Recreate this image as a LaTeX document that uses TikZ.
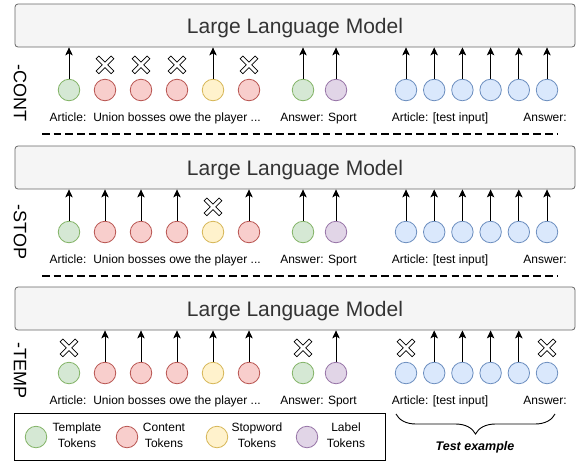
\documentclass[tikz,border=0pt]{standalone}
\usepackage{fontspec}
\setmainfont{Liberation Sans}
\usetikzlibrary{arrows.meta,decorations.pathreplacing}

\definecolor{llmfill}{HTML}{F5F5F5}
\definecolor{llmdraw}{HTML}{666666}
\definecolor{llmtext}{HTML}{333333}
\definecolor{tmplfill}{HTML}{D5E8D4}
\definecolor{tmpldraw}{HTML}{82B366}
\definecolor{contfill}{HTML}{F8CECC}
\definecolor{contdraw}{HTML}{B85450}
\definecolor{stopfill}{HTML}{FFF2CC}
\definecolor{stopdraw}{HTML}{D6B656}
\definecolor{lablfill}{HTML}{E1D5E7}
\definecolor{labldraw}{HTML}{9673A6}
\definecolor{testfill}{HTML}{DAE8FC}
\definecolor{testdraw}{HTML}{6C8EBF}

\tikzset{
	llm/.style={draw=llmdraw, fill=llmfill, rounded corners=3pt, line width=0.8pt,
		minimum width=560pt, minimum height=43pt, text=llmtext, text depth=0pt,
		font=\fontsize{21}{24}\selectfont},
	tok/.style={circle, minimum size=21.5pt, inner sep=0pt, line width=0.8pt},
	tmpl/.style={tok, draw=tmpldraw, fill=tmplfill},
	cont/.style={tok, draw=contdraw, fill=contfill},
	stop/.style={tok, draw=stopdraw, fill=stopfill},
	labl/.style={tok, draw=labldraw, fill=lablfill},
	test/.style={tok, draw=testdraw, fill=testfill},
	feed/.style={-{Stealth[length=8pt, width=7.5pt, inset=2pt]}, line width=0.9pt},
	lbl/.style={anchor=base, inner sep=0pt, font=\fontsize{12}{16}\selectfont},
	side/.style={rotate=-90, inner sep=0pt, font=\fontsize{18}{20}\selectfont},
	sep/.style={line width=1.8pt, dash pattern=on 7.5pt off 4.2pt},
	xcut/.pic={\filldraw[fill=white, draw=black, line width=0.7pt, rotate=45]
		(-1.9,-10.6) -- (1.9,-10.6) -- (1.9,-1.9) -- (10.6,-1.9) -- (10.6,1.9) -- (1.9,1.9)
		-- (1.9,10.6) -- (-1.9,10.6) -- (-1.9,1.9) -- (-10.6,1.9) -- (-10.6,-1.9) -- (-1.9,-1.9) -- cycle;}
}

\begin{document}
\begin{tikzpicture}[x=1pt, y=-1pt]
	\useasboundingbox (0,0) rectangle (580,461);
	% three ablation panels
	\foreach \p/\off/\tag/\ty in {1/0/CONT/93, 2/142/STOP/232, 3/283/TEMP/370} {
		\node[llm] (llm\p) at (295, \off+25.5) {Large Language Model};
		\node[side] (side\p) at (20, \ty) {-\tag};
		\foreach \n/\x/\k in {1/69/tmpl, 2/105/cont, 3/141/cont, 4/177/cont, 5/213/stop, 6/249/cont, 7/303/tmpl, 8/336/labl, 9/406/test, 10/434.2/test, 11/462.4/test, 12/490.6/test, 13/518.8/test, 14/547/test}
			\node[\k] (p\p t\n) at (\x, \off+90) {};
		\node[lbl] (art\p) at (68, \off+121) {Article:};
		\node[lbl] (body\p) at (177, \off+121) {Union bosses owe the player ...};
		\node[lbl] (ans\p) at (318.5, \off+121) {Answer: Sport};
		\node[lbl] (test\p) at (440, \off+121) {Article: [test input]};
		\node[lbl] (query\p) at (545, \off+121) {Answer:};
	}
	\draw[sep] (42,134) -- (557,134);
	\draw[sep] (42,276) -- (557,276);

	% -CONT
	\foreach \n in {1,5,7,8,9,10,11,12,13,14}
		\draw[feed] (p1t\n) -- (p1t\n |- llm1.south);
	\foreach \n in {2,3,4,6}
		\pic at ([yshift=14pt]p1t\n.north) {xcut};
	% -STOP
	\foreach \n in {1,2,3,4,6,7,8,9,10,11,12,13,14}
		\draw[feed] (p2t\n) -- (p2t\n |- llm2.south);
	\pic at ([yshift=14pt]p2t5.north) {xcut};
	% -TEMP
	\foreach \n in {2,3,4,5,6,8,10,11,12,13}
		\draw[feed] (p3t\n) -- (p3t\n |- llm3.south);
	\foreach \n in {1,7,9,14}
		\pic at ([yshift=14pt]p3t\n.north) {xcut};

	% legend
	\draw[line width=1pt] (14,413) rectangle (385,460);
	\foreach \k/\x/\w/\tx in {tmpl/36/Template/77, cont/127/Content/164, stop/217/Stopword/257, labl/307/Label/346} {
		\node[\k] (key\k) at (\x,437) {};
		\node[lbl, anchor=center, align=center] (keytext\k) at (\tx,435) {\w\\Tokens};
	}

	% test example brace
	\coordinate (brl) at (396,414);
	\coordinate (brr) at (555,414);
	\draw[decorate, decoration={brace, mirror, amplitude=20pt}, line width=0.9pt] (brl) -- (brr);
	\node[font=\bfseries\itshape\fontsize{12.5}{14}\selectfont] (testex) at (475,447) {Test example};
\end{tikzpicture}
\end{document}
